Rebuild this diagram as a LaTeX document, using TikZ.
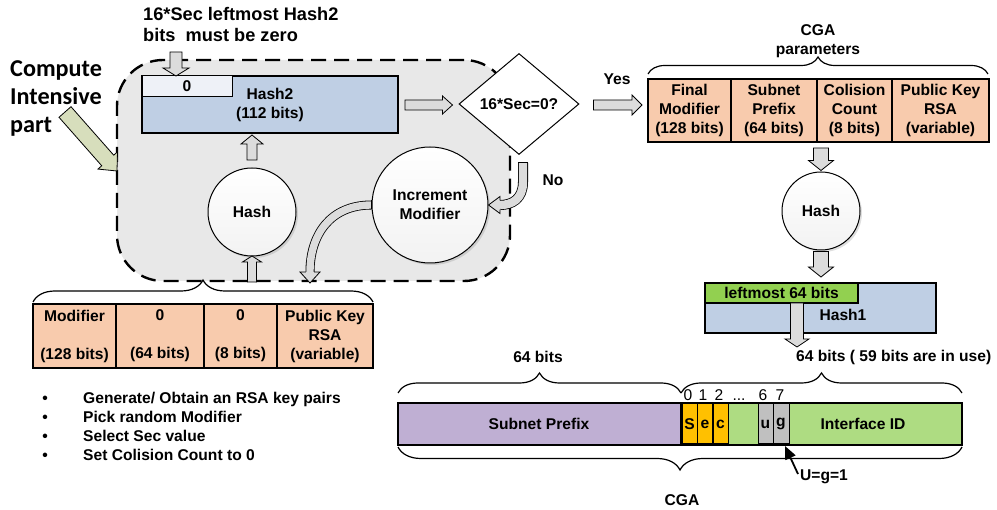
\documentclass[tikz,border=0pt]{standalone}
\usepackage{fontspec}
\setmainfont{Liberation Sans}
\newfontfamily\calib{Carlito}
\usetikzlibrary{calc,shapes.geometric,decorations.pathreplacing,shadows,arrows.meta}

\definecolor{peach}{HTML}{F8CBAD}
\definecolor{hblue}{HTML}{BFCFE4}
\definecolor{zbox}{HTML}{EEF1F7}
\definecolor{regfill}{HTML}{E8E8E8}
\definecolor{purp}{HTML}{BFAFD3}
\definecolor{igreen}{HTML}{AEDC82}
\definecolor{lgreen}{HTML}{92D050}
\definecolor{orng}{HTML}{FFC000}
\definecolor{ggray}{HTML}{C0C0C0}
\definecolor{arrgray}{HTML}{DCDCDC}
\definecolor{khaki}{HTML}{D7DEBC}

% straight block arrow: [fill] halfshaft halfhead headlength from to
\newcommand\barrow[6][arrgray]{%
  \filldraw[line width=0.8pt, fill=#1] let \p1=(#5), \p2=(#6),
    \n1={atan2(\y2-\y1,\x2-\x1)}, \n2={veclen(\x2-\x1,\y2-\y1)-#4} in
   ($(\p1)+({\n1+90}:#2pt)$) -- ($(\p1)+(\n1:\n2)+({\n1+90}:#2pt)$)
   -- ($(\p1)+(\n1:\n2)+({\n1+90}:#3pt)$) -- (\p2)
   -- ($(\p1)+(\n1:\n2)+({\n1-90}:#3pt)$) -- ($(\p1)+(\n1:\n2)+({\n1-90}:#2pt)$)
   -- ($(\p1)+({\n1-90}:#2pt)$) -- cycle;}
% arrow head for curved block arrows: halfshaft halfhead base tip
\newcommand\ahead[4]{%
  \filldraw[line width=0.8pt, fill=arrgray] let \p1=(#3), \p2=(#4),
    \n1={atan2(\y2-\y1,\x2-\x1)} in
   ($(\p1)+({\n1+90}:#1pt)$) -- ($(\p1)+({\n1+90}:#2pt)$) -- (\p2)
   -- ($(\p1)+({\n1-90}:#2pt)$) -- ($(\p1)+({\n1-90}:#1pt)$);}

\begin{document}
\begin{tikzpicture}[x=1pt,y=-1pt,
  every node/.style={font=\fontsize{15.6}{19}\selectfont\bfseries, inner sep=0pt},
  region/.style={draw, line width=2.4pt, dash pattern=on 15pt off 8pt, fill=regfill,
     rounded corners=46pt, minimum width=393pt, minimum height=221pt, outer sep=0pt},
  cell/.style={draw, line width=1.2pt, fill=peach, align=center, anchor=north west, outer sep=0pt},
  boxst/.style={draw, line width=1.2pt, anchor=north west, outer sep=0pt},
  circ/.style={circle, draw, line width=1pt, top color=white, bottom color=gray!10, align=center,
     drop shadow={opacity=0.25, shadow xshift=2pt, shadow yshift=-2pt}},
  bit/.style={draw, line width=1pt, minimum width=15pt, minimum height=40pt, outer sep=0pt},
  bitnum/.style={font=\fontsize{15.6}{18}\selectfont\mdseries, anchor=base},
  bracest/.style={decorate, line width=1.2pt},
  curvy/.style={line width=0.8pt, double=arrgray, double distance=#1},
]
\useasboundingbox (0,0) rectangle (997,510);

% compute intensive region
\node[region] (cip) at (313.5,170.5) {};

% labels
\node[anchor=west, align=left, font=\fontsize{18.2}{21}\selectfont\bfseries] (lbl16) at (143,24.5)
   {16*Sec leftmost Hash2\\bits\ \ must be zero};
\node[anchor=west, align=left, font=\calib\bfseries\fontsize{24.2}{28}\selectfont] (comp) at (10,98)
   {Compute\\Intensive\\part};
\coordinate (cipin) at (117,171);
\barrow[khaki]{8}{13}{14}{65,112}{cipin}

% Hash2
\node[boxst, fill=hblue, minimum width=256pt, minimum height=57pt, align=center] (h2) at (142,76) {Hash2\\(112 bits)};
\node[boxst, line width=1pt, fill=zbox, minimum width=90pt, minimum height=21pt] (zero) at (142,76) {0};
\barrow{6}{13}{8}{176,52}{$(zero.north west)+(34,0)$}

% diamond
\node[diamond, draw, line width=1pt, fill=white, minimum width=120pt, minimum height=101pt] (dia) at (519,104) {16*Sec=0?};
\barrow{5}{9}{10}{$(h2.east)+(7,0.5)$}{$(dia.west)+(-6,1)$}

% circles
\node[circ, minimum size=88pt] (hashL) at (252,212) {Hash};
\node[circ, minimum size=116pt] (inc) at (430,205) {Increment\\Modifier};
\node[circ, minimum size=78pt] (hashR) at (821,211) {Hash};

\barrow{5}{11}{9}{252,160}{252,135}
\barrow{4.5}{9.5}{6}{252,282}{252,256}

% No branch
\draw[curvy=8.4pt] ($(dia.south)+(4,8)$) -- (523,182) .. controls (523,199) and (512,205) .. (500,205);
\ahead{4.6}{8.5}{500,205}{inc.east}
\draw[line width=0.8pt] (518,162) -- (528,162);
\node (no) at (553,180) {No};

% increment -> modifier table
\draw[curvy=7.4pt] (inc.west) .. controls (330,205) and (310,235) .. (310,272);
\ahead{4.1}{10}{310,272}{310,283}
\draw[line width=0.8pt] ($(inc.west)+(0,-4.5)$) -- ($(inc.west)+(0,4.5)$);

% left table
\node[cell, minimum width=83pt, minimum height=64pt] (c1) at (33,304) {Modifier\\[19pt](128 bits)};
\node[cell, minimum width=88pt, minimum height=64pt] (c2) at (c1.north east) {0\\[19pt](64 bits)};
\node[cell, minimum width=73pt, minimum height=64pt] (c3) at (c2.north east) {0\\[19pt](8 bits)};
\node[cell, minimum width=96pt, minimum height=64pt] (c4) at (c3.north east) {Public Key\\RSA\\(variable)};
\draw[bracest, decoration={brace, amplitude=22pt}] (33,302) -- (373,302);

% bullets
\node[anchor=base] (b1) at (45,403.5) {•};
\node[anchor=base] (b2) at (45,423) {•};
\node[anchor=base] (b3) at (45,442) {•};
\node[anchor=base] (b4) at (45,461) {•};
\node[anchor=base west] (t1) at (83,403.5) {Generate/ Obtain an RSA key pairs};
\node[anchor=base west] (t2) at (83,423) {Pick random Modifier};
\node[anchor=base west] (t3) at (83,442) {Select Sec value};
\node[anchor=base west] (t4) at (83,461) {Set Colision Count to 0};

% yes branch and CGA parameters
\node (yes) at (617,79) {Yes};
\node[cell, minimum width=83pt, minimum height=63pt] (p1) at (648,79) {Final\\Modifier\\(128 bits)};
\node[cell, minimum width=86pt, minimum height=63pt] (p2) at (p1.north east) {Subnet\\Prefix\\(64 bits)};
\node[cell, minimum width=75pt, minimum height=63pt] (p3) at (p2.north east) {Colision\\Count\\(8 bits)};
\node[cell, minimum width=97pt, minimum height=63pt] (p4) at (p3.north east) {Public Key\\RSA\\(variable)};
\barrow{5}{10}{10}{$(dia.east)+(14,1)$}{642,105}
\draw[bracest, decoration={brace, amplitude=17pt}] (648,74) -- (988,74);
\node[align=center] (cgap) at (818,41) {CGA\\parameters};

\barrow{7.5}{12.5}{10}{821,148}{$(hashR.north)+(0,-1)$}
\barrow{7.5}{12.5}{10}{$(hashR.south)+(0,1)$}{821,277}

% Hash1
\node[boxst, fill=hblue, minimum width=231pt, minimum height=50pt] (h1) at (705,283) {};
\node (h1t) at (843,315) {Hash1};
\node[boxst, fill=lgreen, minimum width=153pt, minimum height=20pt] (lm) at (705,283) {leftmost 64 bits};
\barrow{6.5}{12}{8}{$(lm.south)+(15.5,0)$}{797,347}

% CGA
\node (l64) at (538,357) {64 bits};
\node[anchor=west] (r64) at (796,357) {64 bits ( 59 bits are in use)};
\draw[bracest, decoration={brace, amplitude=20pt}] (398,393) -- (681,393);
\draw[bracest, decoration={brace, amplitude=20pt}] (681,393) -- (962,393);
\node[boxst, fill=purp, minimum width=283pt, minimum height=42pt] (sp) at (398,403) {};
\node (spt) at (539,424) {Subnet Prefix};
\node[boxst, fill=igreen, minimum width=281pt, minimum height=42pt] (iid) at (681,403) {};
\node (iidt) at (863,424) {Interface ID};
\node[bit, fill=orng] (bS) at (689.5,424) {S};
\node[bit, fill=orng] (bE) at (705,424) {e};
\node[bit, fill=orng] (bC) at (720.5,424) {c};
\node[bit, fill=ggray] (bU) at (765.5,424) {u};
\node[bit, fill=ggray, minimum width=16pt] (bG) at (781,424) {g};
\node[bitnum] (n0) at (688,401) {0};
\node[bitnum] (n1) at (703,401) {1};
\node[bitnum] (n2) at (719,401) {2};
\node[bitnum] (nd) at (739,401) {...};
\node[bitnum] (n6) at (763,401) {6};
\node[bitnum] (n7) at (780,401) {7};
\draw[bracest, decoration={brace, amplitude=23pt}] (962,447) -- (398,447);
\node (cga) at (682,500) {CGA};

\node[anchor=west] (ug) at (800,477) {U=g=1};
\coordinate (ugtip) at (785,446);
\draw[line width=1.8pt, -{Triangle[length=13pt,width=11pt]}] ($(ug.west)+(-2,-3)$) -- (ugtip);
\end{tikzpicture}
\end{document}
